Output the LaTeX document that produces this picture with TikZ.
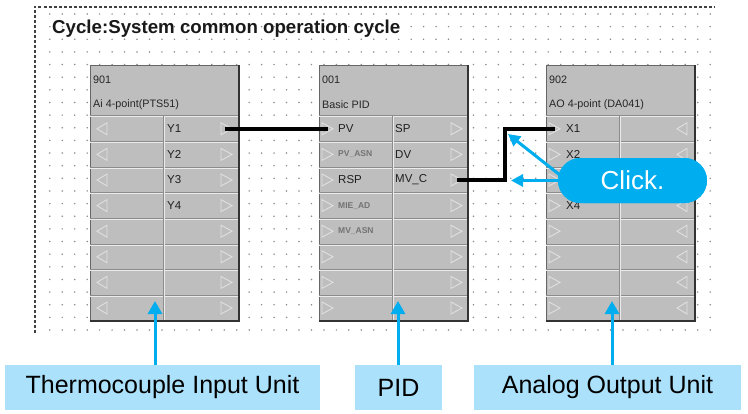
\documentclass[tikz,border=0pt]{standalone}
\usepackage{fontspec}
\setmainfont{Liberation Sans}
\usetikzlibrary{arrows.meta,calc}
\definecolor{cyanc}{RGB}{0,174,239}
\definecolor{labelc}{RGB}{171,225,250}
\definecolor{blockc}{RGB}{190,190,190}
\definecolor{dotc}{RGB}{140,140,140}
\tikzset{
 blk/.style={draw=black!60, line width=0.8pt, fill=blockc, minimum width=149pt, minimum height=255pt, inner sep=0pt},
 darkln/.style={draw=black!45, line width=0.9pt},
 lightln/.style={draw=white!92!black, line width=0.9pt},
 blkshadow/.style={draw=black!80, line width=2pt},
 tri/.style={draw=white!88!black, line width=0.9pt, line join=miter},
 hdtxt/.style={anchor=west, inner sep=0pt, font=\fontsize{10.8}{13}\selectfont, text=black!85},
 ptxt/.style={anchor=west, inner sep=0pt, font=\fontsize{11.5}{13}\selectfont, text=black!88},
 dtxt/.style={anchor=west, inner sep=0pt, font=\bfseries\fontsize{8.5}{10}\selectfont, text=black!55},
 wire/.style={line width=3.4pt, black},
 bluearr/.style={draw=cyanc, line width=3pt, -{Triangle[length=13pt,width=14pt]}},
 callarr/.style={draw=cyanc, line width=3pt, -{Triangle[length=12pt,width=12pt]}},
 labbox/.style={fill=labelc, minimum height=45pt, inner sep=0pt, font=\fontsize{25}{30}\selectfont, text=black},
 callout/.style={fill=cyanc, rounded corners=22.5pt, minimum width=149pt, minimum height=45pt, inner sep=0pt, text=white, font=\fontsize{26}{30}\selectfont},
 border/.style={draw=black!75, line width=2pt, dash pattern=on 3pt off 2pt},
}
% left-pointing triangle: tip x, center y
\newcommand{\trileft}[2]{\draw[tri] (#1,#2) -- (#1+10,#2-6) -- (#1+10,#2+6) -- cycle;}
\newcommand{\triright}[2]{\draw[tri] (#1,#2) -- (#1-11,#2-6) -- (#1-11,#2+6) -- cycle;}
\newcommand{\fbframe}[1]{%
 \node[blk, anchor=north west] (#1) at (0,65) {};
 \draw[darkln] (0,115) -- (149,115); \draw[lightln] (0,116) -- (149,116);
 \foreach \k in {1,...,7} {\draw[darkln] (0,116+25.6*\k) -- (149,116+25.6*\k); \draw[lightln] (0,117+25.6*\k) -- (149,117+25.6*\k);}
 \draw[darkln] (73.5,116) -- (73.5,320); \draw[lightln] (74.5,116) -- (74.5,320);
 \draw[blkshadow] (149,65) -- (149,320.5) -- (0,320.5);
}
\begin{document}
\begin{tikzpicture}[x=1pt,y=-1pt]
\useasboundingbox (0,0) rectangle (748,413);
\fill[white] (0,0) rectangle (748,413);
% dot grid
\foreach \i in {0,...,53} {\foreach \j in {0,...,25} {\fill[dotc] (49.8+12.46*\i,14+12.64*\j) circle (0.85pt);}}
% panel border
\draw[border] (35,333) -- (35,6.5) -- (715,6.5);
\node[anchor=base west, inner sep=0pt, font=\bfseries\fontsize{18.7}{22}\selectfont, text=black!90] (title) at (52,33.5) {Cycle:System common operation cycle};

% block 1
\begin{scope}[shift={(90,0)}]
 \fbframe{b1}
 \node[hdtxt] (b1n) at (3,80) {901};
 \node[hdtxt] (b1t) at (3,105) {Ai 4-point(PTS51)};
 \foreach \r in {0,...,7} {\trileft{7}{128.8+25.6*\r} \triright{142}{128.8+25.6*\r}}
 \node[ptxt] (b1y1) at (77,128.8) {Y1};
 \node[ptxt] (b1y2) at (77,154.4) {Y2};
 \node[ptxt] (b1y3) at (77,180.0) {Y3};
 \node[ptxt] (b1y4) at (77,205.6) {Y4};
 \coordinate (y1out) at (135,128.8);
\end{scope}

% block 2
\begin{scope}[shift={(319,0)}]
 \fbframe{b2}
 \node[hdtxt] (b2n) at (3,80) {001};
 \node[hdtxt] (b2t) at (3,105) {Basic PID};
 \foreach \r in {0,...,7} {\triright{14}{128.8+25.6*\r} \triright{143}{128.8+25.6*\r}}
 \node[ptxt] (b2pv) at (19,128.8) {PV};
 \node[dtxt] (b2pva) at (19,154.4) {PV\_ASN};
 \node[ptxt] (b2rsp) at (19,180.0) {RSP};
 \node[dtxt] (b2mie) at (19,205.6) {MIE\_AD};
 \node[dtxt] (b2mva) at (19,231.2) {MV\_ASN};
 \node[ptxt] (b2sp) at (76,128.8) {SP};
 \node[ptxt] (b2dv) at (76,154.4) {DV};
 \node[ptxt] (b2mvc) at (76,180.0) {MV\_C};
 \coordinate (pvin) at (9,128.8);
 \coordinate (mvcout) at (138,180.0);
\end{scope}

% block 3
\begin{scope}[shift={(546,0)}]
 \fbframe{b3}
 \node[hdtxt] (b3n) at (3,80) {902};
 \node[hdtxt] (b3t) at (3,105) {AO 4-point (DA041)};
 \foreach \r in {0,...,7} {\triright{14}{128.8+25.6*\r} \trileft{131}{128.8+25.6*\r}}
 \node[ptxt] (b3x1) at (20,128.8) {X1};
 \node[ptxt] (b3x2) at (20,154.4) {X2};
 \node[ptxt] (b3x3) at (20,180.0) {X3};
 \node[ptxt] (b3x4) at (20,205.6) {X4};
 \coordinate (x1in) at (9,128.8);
\end{scope}

% wires
\draw[wire] (y1out) -- (pvin);
\draw[wire] (mvcout) -- ++(48,0) |- (x1in);

% callout
\coordinate (c1) at (508,134);
\coordinate (c2) at (511,180.5);
\node[callout] (click) at (632.5,180.5) {};
\draw[callarr] ($(click.west)+(4,-4)$) -- (c1);
\draw[callarr] ($(click.west)+(6,0)$) -- (c2);
\node[callout] (click2) at (632.5,180.5) {Click.};

% bottom labels
\node[labbox, minimum width=315pt] (lab1) at (162.5,387.5) {Thermocouple Input Unit};
\node[labbox, minimum width=87pt] (lab2) at (398.5,387.5) {PID};
\node[labbox, minimum width=267pt] (lab3) at (607.5,387.5) {Analog Output Unit};
\coordinate (tip1) at (155,301);
\coordinate (tip2) at (398,301);
\coordinate (tip3) at (612,301);
\draw[bluearr] (lab1.north -| tip1) -- (tip1);
\draw[bluearr] (lab2.north -| tip2) -- (tip2);
\draw[bluearr] (lab3.north -| tip3) -- (tip3);
\end{tikzpicture}
\end{document}
